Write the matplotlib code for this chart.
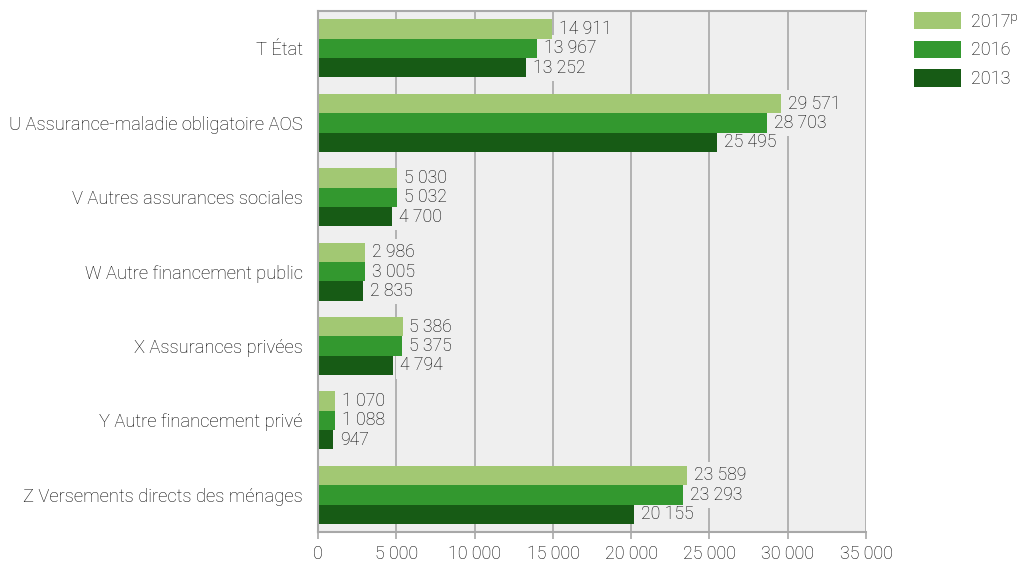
import matplotlib
matplotlib.use("Agg")
import matplotlib.pyplot as plt
from matplotlib.patches import Patch
from matplotlib.ticker import FuncFormatter
import numpy as np

# Données (en millions de francs)
categories = [
    "T État",
    "U Assurance-maladie obligatoire AOS",
    "V Autres assurances sociales",
    "W Autre financement public",
    "X Assurances privées",
    "Y Autre financement privé",
    "Z Versements directs des ménages",
]
valeurs_2017 = [14911, 29571, 5030, 2986, 5386, 1070, 23589]
valeurs_2016 = [13967, 28703, 5032, 3005, 5375, 1088, 23293]
valeurs_2013 = [13252, 25495, 4700, 2835, 4794, 947, 20155]
series = ["2017ᵖ", "2016", "2013"]
couleurs = ["#a2c873", "#33982f", "#175b15"]

fond = "#efefef"
gris = "#a8a8a8"
texte = "#000000"

plt.rcParams['font.family'] = ['Roboto', 'DejaVu Sans']
plt.rcParams['font.size'] = 12.5


def fmt(v):
    return f"{int(v):,}".replace(",", " ")


fig = plt.figure(figsize=(10.2, 5.63), dpi=100)
ax = fig.add_axes([0.312, 0.055, 0.537, 0.925])
ax.set_facecolor(fond)

y = np.arange(len(categories))
h = 0.26
donnees = [valeurs_2017, valeurs_2016, valeurs_2013]
for i, (vals, coul) in enumerate(zip(donnees, couleurs)):
    pos = y + (i - 1) * h
    # barres au-dessus des étiquettes pour ne pas être rognées
    ax.barh(pos, vals, height=h, color=coul, zorder=5)
    for p, v in zip(pos, vals):
        ax.annotate(fmt(v), xy=(v, p), xytext=(5, 0), textcoords="offset points",
                    va="center", ha="left", fontsize=12.7, fontweight="light",
                    color=texte, zorder=4,
                    bbox=dict(boxstyle="square,pad=0.25", facecolor=fond, edgecolor="none"))

ax.set_xlim(0, 35000)
ax.set_ylim(len(categories) - 0.5, -0.5)
ax.set_xticks(np.arange(0, 35001, 5000))
ax.xaxis.set_major_formatter(FuncFormatter(lambda v, _: fmt(v)))
ax.set_yticks(y)
ax.set_yticklabels(categories)

ax.grid(axis="x", color=gris, linewidth=1.2, zorder=0)
ax.set_axisbelow(True)
for s in ["top", "left", "bottom"]:
    ax.spines[s].set_color(gris)
    ax.spines[s].set_linewidth(1.5)
    ax.spines[s].set_zorder(6)
ax.spines["right"].set_visible(False)

ax.tick_params(axis="y", length=0, pad=11, labelsize=13.2, labelcolor=texte)
ax.tick_params(axis="x", length=5, width=1.2, color=gris, pad=4,
               labelsize=12.8, labelcolor=texte)
for lab in ax.get_xticklabels() + ax.get_yticklabels():
    lab.set_fontweight("light")

poignees = [Patch(facecolor=c, edgecolor="none") for c in couleurs]
leg = fig.legend(poignees, series, loc="upper left", bbox_to_anchor=(0.896, 0.979),
                 frameon=False, handlelength=2.6, handleheight=1.1,
                 handletextpad=0.55, labelspacing=0.55, borderpad=0, borderaxespad=0,
                 fontsize=13)
for t in leg.get_texts():
    t.set_fontweight("light")
    t.set_color(texte)

fig.savefig("out.png", dpi=100)
